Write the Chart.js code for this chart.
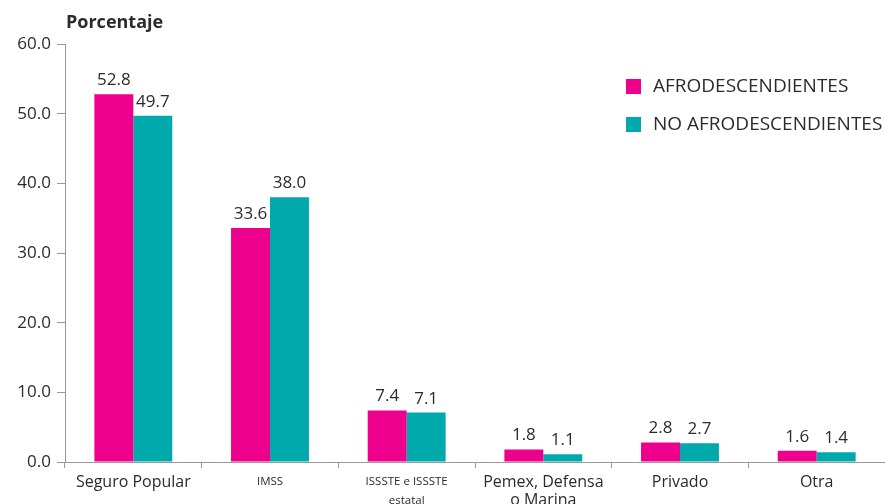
<!DOCTYPE html>
<html>
<head>
<meta charset="utf-8">
<script src="https://cdn.jsdelivr.net/npm/chart.js@4.4.0/dist/chart.umd.min.js"></script>
<style>
  html, body { margin: 0; padding: 0; background: #fff; overflow: hidden; }
  #wrap { width: 885px; height: 520px; }
</style>
</head>
<body>
<div id="wrap"><canvas id="chart" width="885" height="520"></canvas></div>
<script>
const categories = [
  'Seguro Popular',
  'IMSS',
  ['ISSSTE e ISSSTE', 'estatal'],
  ['Pemex, Defensa', 'o Marina'],
  'Privado',
  'Otra'
]
const afro = [52.8, 33.6, 7.4, 1.8, 2.8, 1.6]
const noAfro = [49.7, 38.0, 7.1, 1.1, 2.7, 1.4]
const seriesNames = ['AFRODESCENDIENTES', 'NO AFRODESCENDIENTES']
const yTicks = [0, 10, 20, 30, 40, 50, 60]

const FONT = '"Open Sans", "Noto Sans", sans-serif'
const PINK = '#EC008C'
const TEAL = '#00A9AC'
const TEXT = '#2b2b2b'

// value labels above each bar
const valueLabels = {
  id: 'valueLabels',
  afterDatasetsDraw(chart) {
    const ctx = chart.ctx
    ctx.save()
    ctx.font = '17px ' + FONT
    ctx.fillStyle = TEXT
    ctx.textAlign = 'center'
    ctx.textBaseline = 'alphabetic'
    chart.data.datasets.forEach((ds, i) => {
      chart.getDatasetMeta(i).data.forEach((bar, j) => {
        ctx.fillText(ds.data[j].toFixed(1), bar.x, bar.y - 9)
      })
    })
    ctx.restore()
  }
}

// axis title and legend
const extras = {
  id: 'extras',
  afterDraw(chart) {
    const ctx = chart.ctx
    const area = chart.chartArea
    ctx.save()
    ctx.fillStyle = TEXT
    ctx.font = 'bold 18px ' + FONT
    ctx.textBaseline = 'alphabetic'
    ctx.textAlign = 'left'
    ctx.fillText('Porcentaje', area.left + 1, 28)

    ctx.font = '19px ' + FONT
    ctx.textBaseline = 'middle'
    chart.data.datasets.forEach((ds, i) => {
      const y = 86 + i * 38
      const x = area.right - 259
      ctx.fillStyle = ds.backgroundColor
      ctx.fillRect(x, y - 7, 15, 15)
      ctx.fillStyle = TEXT
      ctx.fillText(ds.label, x + 27, y + 1)
    })
    ctx.restore()
  }
}

new Chart(document.getElementById('chart').getContext('2d'), {
  type: 'bar',
  data: {
    labels: categories,
    datasets: [
      { label: seriesNames[0], data: afro, backgroundColor: PINK },
      { label: seriesNames[1], data: noAfro, backgroundColor: TEAL }
    ]
  },
  options: {
    responsive: false,
    animation: false,
    layout: { padding: { top: 44, right: 0, left: 0, bottom: 0 } },
    datasets: {
      bar: { categoryPercentage: 0.57, barPercentage: 1.0 }
    },
    plugins: {
      legend: { display: false },
      tooltip: { enabled: false }
    },
    scales: {
      x: {
        afterFit: (axis) => { axis.height = 58 },
        grid: { display: true, drawOnChartArea: false, offset: true, tickLength: 6, color: '#999' },
        border: { color: '#999' },
        ticks: {
          color: TEXT,
          padding: 5,
          maxRotation: 0,
          autoSkip: false,
          font: (c) => {
            const small = c.index === 1 || c.index === 2
            return { family: FONT, size: small ? 11.5 : 16, lineHeight: small ? 1.6 : 1.15 }
          }
        }
      },
      y: {
        min: 0,
        max: 60,
        afterFit: (axis) => { axis.width = 65 },
        afterBuildTicks: (axis) => { axis.ticks = yTicks.map(v => ({ value: v })) },
        grid: { display: true, drawOnChartArea: false, tickLength: 8, color: '#999' },
        border: { color: '#999' },
        ticks: {
          color: TEXT,
          padding: 6,
          font: { family: FONT, size: 17 },
          callback: (v) => Number(v).toFixed(1)
        }
      }
    }
  },
  plugins: [valueLabels, extras]
})
</script>
</body>
</html>
